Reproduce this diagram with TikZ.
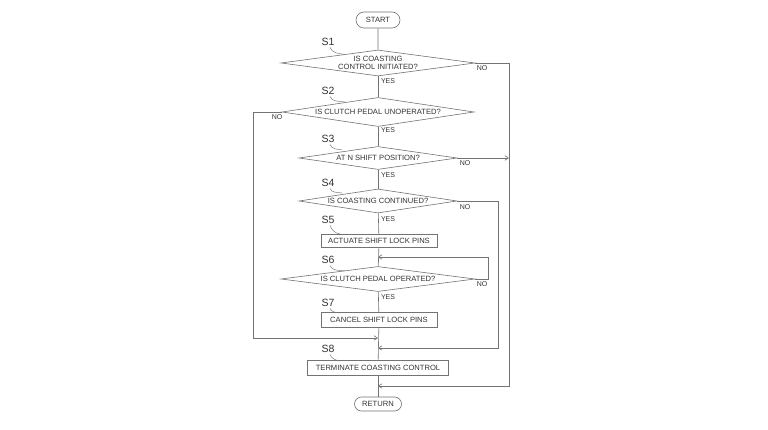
\documentclass[tikz,border=0pt]{standalone}
\usepackage{fontspec}
\setmainfont{Liberation Sans}
\usetikzlibrary{shapes.geometric,shapes.misc,arrows.meta}
\begin{document}
\begin{tikzpicture}[x=1pt,y=-1pt,
  ln/.style={draw=black!55, line width=0.6pt},
  arr/.style={ln, -{Straight Barb[length=3.5pt,width=4.5pt]}},
  dec/.style={diamond, ln, shape aspect=7, inner sep=0pt, text=black!80, font=\fontsize{7.6}{8.6}\selectfont, align=center},
  proc/.style={rectangle, ln, inner sep=0pt, text=black!80, font=\fontsize{7.6}{8.6}\selectfont},
  term/.style={rounded rectangle, ln, inner sep=0pt, text=black!80, font=\fontsize{7.6}{8.6}\selectfont},
  sl/.style={text=black!80, font=\fontsize{10.5}{11}\selectfont, inner sep=0pt},
  yn/.style={text=black!80, font=\fontsize{7}{8}\selectfont, inner sep=0pt}]
\useasboundingbox (0,0) rectangle (768,430);
\fill[white] (0,0) rectangle (768,430);

% main nodes
\node[term, minimum width=44, minimum height=16] (start) at (378,20) {START};
\node[dec, minimum width=194, minimum height=26] (s1) at (378,63) {IS COASTING\\CONTROL INITIATED?};
\node[dec, minimum width=192, minimum height=29] (s2) at (378,112) {IS CLUTCH PEDAL UNOPERATED?};
\node[dec, minimum width=158, minimum height=23] (s3) at (378,158) {AT N SHIFT POSITION?};
\node[dec, minimum width=158, minimum height=24] (s4) at (378,201) {IS COASTING CONTINUED?};
\node[proc, minimum width=116, minimum height=13] (s5) at (379,241) {ACTUATE SHIFT LOCK PINS};
\node[dec, minimum width=194, minimum height=25] (s6) at (378,279) {IS CLUTCH PEDAL OPERATED?};
\node[proc, minimum width=116, minimum height=15] (s7) at (379,320) {CANCEL SHIFT LOCK PINS};
\node[proc, minimum width=141, minimum height=15] (s8) at (378,368) {TERMINATE COASTING CONTROL};
\node[term, minimum width=47, minimum height=14] (ret) at (378,404) {RETURN};

% step labels
\node[sl] (l1) at (328,42) {S1};
\node[sl] (l2) at (328,91) {S2};
\node[sl] (l3) at (328,139) {S3};
\node[sl] (l4) at (328,183) {S4};
\node[sl] (l5) at (328,220) {S5};
\node[sl] (l6) at (328,260) {S6};
\node[sl] (l7) at (328,303) {S7};
\node[sl] (l8) at (328,349) {S8};

\coordinate (t1) at (345,54.5);
\coordinate (t2) at (345,102);
\coordinate (t3) at (342,150);
\coordinate (t4) at (342,193);
\coordinate (t5) at (340,234);
\coordinate (t6) at (345,271);
\coordinate (t7) at (340,313);
\coordinate (t8) at (340,361);
\foreach \i in {1,...,8}{
  \draw[ln, line width=0.45pt] ([shift={(2,1.5)}]l\i.south) to[out=-70,in=170] (t\i);
}

% main flow
\draw[ln] (start) -- (s1);
\draw[ln] (s1) -- (s2);
\draw[ln] (s2) -- (s3);
\draw[ln] (s3) -- (s4);
\draw[ln] (s4) -- (s5);
\draw[ln] (s5) -- (s6);
\draw[ln] (s6) -- (s7);
\draw[ln] (s7) -- (s8);
\draw[ln] (s8) -- (ret);

% merge points
\coordinate (m6) at (378,257);
\coordinate (m2) at (378,338);
\coordinate (m4) at (378,348);
\coordinate (m1) at (378,386);
\coordinate (r1) at (509,63);
\coordinate (r1b) at (509,386);
\coordinate (r3) at (509,158);
\coordinate (r4) at (498,201);
\coordinate (r4b) at (498,348);
\coordinate (r6) at (488,279);
\coordinate (r6b) at (488,257);
\coordinate (q2) at (253,112);
\coordinate (q2b) at (253,338);

\draw[arr] (s1.east) -- (r1) -- (r1b) -- (m1);
\draw[arr] (s3.east) -- (r3);
\draw[arr] (s2.west) -- (q2) -- (q2b) -- (m2);
\draw[arr] (s4.east) -- (r4) -- (r4b) -- (m4);
\draw[arr] (s6.east) -- (r6) -- (r6b) -- (m6);

% YES / NO labels
\node[yn] (n1) at (482,68) {NO};
\node[yn] (y1) at (388,81) {YES};
\node[yn] (n2) at (277,117) {NO};
\node[yn] (y2) at (388,130) {YES};
\node[yn] (n3) at (465,163) {NO};
\node[yn] (y3) at (388,175) {YES};
\node[yn] (n4) at (465,207) {NO};
\node[yn] (y4) at (388,219) {YES};
\node[yn] (n6) at (482,284) {NO};
\node[yn] (y6) at (388,297) {YES};
\end{tikzpicture}
\end{document}
